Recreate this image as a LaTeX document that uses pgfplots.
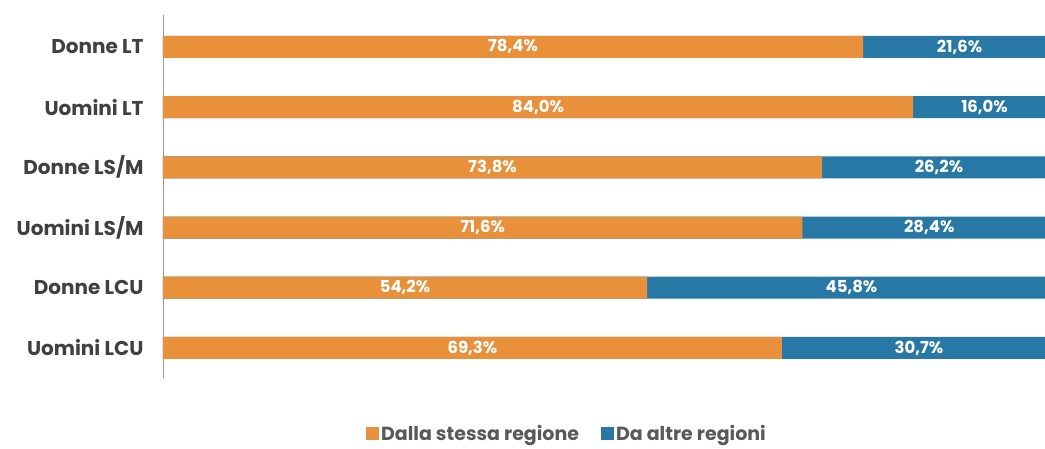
\documentclass[border=0pt]{standalone}
\usepackage{pgfplots}
\pgfplotsset{compat=1.18}
\usepackage{pgfplotstable}
\usepackage{fontspec}
\setmainfont{Poppins}
\definecolor{orangebar}{RGB}{232,144,58}
\definecolor{bluebar}{RGB}{40,120,166}
\definecolor{labelgray}{RGB}{64,64,64}
\pgfplotstableread{
y a b
0 78.4 21.6
1 84.0 16.0
2 73.8 26.2
3 71.6 28.4
4 54.2 45.8
5 69.3 30.7
}\data
\begin{document}
\begin{tikzpicture}
\path[use as bounding box] (-163pt,15pt) rectangle (882pt,-433pt);
\begin{axis}[
  at={(0pt,0pt)}, anchor=north west,
  scale only axis, width=882pt, height=363pt,
  xmin=0, xmax=98.77, ymin=-0.53, ymax=5.5, y dir=reverse,
  axis x line=none, axis y line*=left,
  y axis line style={draw=black!40, line width=0.8pt},
  ytick={0,1,2,3,4,5},
  yticklabels={Donne LT, Uomini LT, Donne LS/M, Uomini LS/M, Donne LCU, Uomini LCU},
  major tick length=0pt,
  yticklabel style={font=\bfseries\fontsize{20}{20}\selectfont, text=labelgray, xshift=-16pt},
  /pgf/number format/.cd, fixed, fixed zerofill, precision=1, use comma, assume math mode=true,
  /pgfplots/.cd,
  legend columns=2,
  legend style={draw=none, fill=none, at={(0.458,-0.153)}, anchor=center, inner sep=1pt,
    font=\bfseries\fontsize{19}{19}\selectfont, text=black!65,
    /tikz/every even column/.append style={column sep=20pt}},
  legend image code/.code={\fill[#1] (0pt,-6.5pt) rectangle (13pt,6.5pt);},
]
\addlegendimage{fill=orangebar, draw=none}
\addlegendentry{Dalla stessa regione}
\addlegendimage{fill=bluebar, draw=none}
\addlegendentry{Da altre regioni}
\addplot[forget plot, xbar, bar width=22pt, bar shift=0pt, fill=bluebar, draw=none]
  table[x expr=\thisrow{a}+\thisrow{b}, y=y] {\data};
\addplot[forget plot, xbar, bar width=22pt, bar shift=0pt, fill=orangebar, draw=none]
  table[x=a, y=y] {\data};
\addplot[forget plot, draw=none, mark=none, point meta=explicit,
  nodes near coords={\pgfmathprintnumber{\pgfplotspointmeta}\%},
  every node near coord/.style={anchor=center, text=white, font=\bfseries\fontsize{16.5}{16.5}\selectfont}]
  table[x expr=\thisrow{a}/2, y=y, meta=a] {\data};
\addplot[forget plot, draw=none, mark=none, point meta=explicit,
  nodes near coords={\pgfmathprintnumber{\pgfplotspointmeta}\%},
  every node near coord/.style={anchor=center, text=white, font=\bfseries\fontsize{16.5}{16.5}\selectfont}]
  table[x expr=\thisrow{a}+\thisrow{b}/2, y=y, meta=b] {\data};
\end{axis}
\end{tikzpicture}
\end{document}
